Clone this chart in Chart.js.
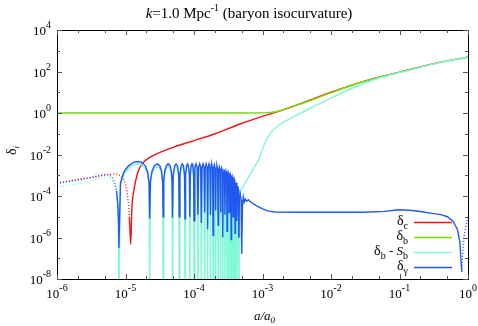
<!DOCTYPE html>
<html>
<head>
<meta charset="utf-8">
<script src="https://cdn.jsdelivr.net/npm/chart.js@4.4.1/dist/chart.umd.min.js"></script>
<style>
  html, body { margin: 0; padding: 0; background: #fff; }
  #wrap { width: 478px; height: 326px; }
</style>
</head>
<body>
<div id="wrap"><canvas id="chart" width="478" height="326"></canvas></div>
<script>
// axis ticks (powers of ten)
const xTickExps = [-6, -5, -4, -3, -2, -1, 0];
const yTickExps = [-8, -6, -4, -2, 0, 2, 4];
const xMinorMult = [2, 5];
const yMinorExps = [-7, -5, -3, -1, 1, 3];

// delta_c (cdm), log10 of |delta|
const cA = [1e-6, 2e-6, 3.3e-6, 5e-6, 6.6e-6, 8.8e-6, 1.04e-5, 1.14e-5, 1.19e-5, 1.24e-5, 1.33e-5, 1.47e-5, 1.63e-5,
  1.93e-5, 2.44e-5, 3.19e-5, 5.28e-5, 1e-4, 2.03e-4, 4.7e-4, 1e-3, 2e-3, 4.5e-3, 1e-2, 3.16e-2, 0.1, 0.316, 1];
const cLog = [-3.39, -3.2, -3.1, -3.0, -2.94, -3.07, -3.71, -5.0, -6.33, -4.6, -3.7, -3.0, -2.6,
  -2.3, -2.08, -1.9, -1.62, -1.33, -1.0, -0.53, -0.16, 0.15, 0.57, 1.0, 1.55, 1.97, 2.38, 2.70];

// delta_b
const bA = [1e-6, 5e-4, 1e-3, 1.3e-3, 1.8e-3, 2.5e-3, 3.16e-3, 4.5e-3, 1e-2, 3.16e-2, 0.1, 0.316, 1];
const bLog = [0, 0, 0.005, 0.03, 0.11, 0.27, 0.38, 0.55, 0.98, 1.54, 1.96, 2.37, 2.69];

// acoustic oscillation region, shared a-values for delta_gamma and delta_b - S_b
const oscA = [
  1e-6, 1.5e-6, 2.2e-6, 3e-6, 4e-6, 5e-6, 5.8e-6, 6.5e-6, 7e-6, 7.4e-6, 7.7e-6, 7.9e-6, 8.0e-6,
  8.44e-6, 9.45e-6, 1.09e-5, 1.235e-5, 1.38e-5, 1.525e-5, 1.67e-5, 1.815e-5, 1.96e-5, 2.105e-5, 2.21e-5, 2.25e-5,
  2.315e-5, 2.445e-5, 2.64e-5, 2.9e-5, 3.16e-5, 3.355e-5, 3.485e-5, 3.55e-5,
  3.615e-5, 3.745e-5, 3.94e-5, 4.2e-5, 4.46e-5, 4.655e-5, 4.785e-5, 4.85e-5,
  4.975e-5, 5.225e-5, 5.475e-5, 5.725e-5, 5.975e-5, 6.1e-5,
  6.23e-5, 6.49e-5, 6.75e-5, 7.01e-5, 7.27e-5, 7.4e-5,
  7.53e-5, 7.79e-5, 8.05e-5, 8.31e-5, 8.57e-5, 8.7e-5,
  8.83e-5, 9.09e-5, 9.35e-5, 9.61e-5, 9.87e-5, 1.0e-4,
  1.028e-4, 1.07e-4, 1.112e-4, 1.14e-4,
  1.168e-4, 1.21e-4, 1.252e-4, 1.28e-4,
  1.31e-4, 1.355e-4, 1.40e-4, 1.43e-4,
  1.46e-4, 1.505e-4, 1.55e-4, 1.58e-4,
  1.612e-4, 1.66e-4, 1.708e-4, 1.74e-4,
  1.772e-4, 1.82e-4, 1.868e-4, 1.90e-4,
  1.934e-4, 1.985e-4, 2.036e-4, 2.07e-4,
  2.106e-4, 2.16e-4, 2.214e-4, 2.25e-4,
  2.288e-4, 2.345e-4, 2.402e-4, 2.44e-4,
  2.478e-4, 2.535e-4, 2.592e-4, 2.63e-4,
  2.67e-4, 2.73e-4, 2.79e-4, 2.83e-4,
  2.872e-4, 2.935e-4, 2.998e-4, 3.04e-4,
  3.084e-4, 3.15e-4, 3.216e-4, 3.26e-4,
  3.306e-4, 3.375e-4, 3.444e-4, 3.49e-4,
  3.538e-4, 3.61e-4, 3.682e-4, 3.73e-4,
  3.78e-4, 3.855e-4, 3.93e-4, 3.98e-4,
  4.032e-4, 4.11e-4, 4.188e-4, 4.24e-4,
  4.292e-4, 4.37e-4, 4.448e-4, 4.50e-4
];
const gOscLog = [
  -3.37, -3.3, -3.22, -3.12, -3.02, -2.96, -2.98, -3.15, -3.4, -3.75, -4.3, -5.2, -6.5,
  -3.37, -2.85, -2.57, -2.43, -2.36, -2.34, -2.36, -2.43, -2.57, -2.85, -3.37, -5.1,
  -3.26, -2.79, -2.54, -2.45, -2.54, -2.79, -3.26, -5.0,
  -3.26, -2.79, -2.54, -2.45, -2.54, -2.79, -3.26, -5.05,
  -2.96, -2.54, -2.45, -2.54, -2.96, -5.0,
  -2.96, -2.54, -2.45, -2.54, -2.96, -5.1,
  -2.96, -2.54, -2.45, -2.54, -2.96, -5.0,
  -2.96, -2.54, -2.45, -2.54, -2.96, -5.2,
  -2.62, -2.45, -2.62, -4.9,
  -2.62, -2.45, -2.62, -5.3,
  -2.62, -2.45, -2.62, -4.8,
  -2.62, -2.45, -2.62, -5.6,
  -2.63, -2.46, -2.63, -4.9,
  -2.64, -2.47, -2.64, -5.9,
  -2.67, -2.5, -2.67, -4.7,
  -2.72, -2.55, -2.72, -5.4,
  -2.77, -2.6, -2.77, -4.8,
  -2.82, -2.65, -2.82, -6.0,
  -2.88, -2.71, -2.88, -4.9,
  -2.97, -2.8, -2.97, -5.7,
  -3.05, -2.88, -3.05, -4.8,
  -3.14, -2.97, -3.14, -6.1,
  -3.25, -3.08, -3.25, -5.0,
  -3.37, -3.2, -3.37, -5.8,
  -3.52, -3.35, -3.52, -5.2,
  -3.69, -3.52, -3.69, -6.0
];
const sOscLog = [
  -3.55, -3.48, -3.39, -3.28, -3.17, -3.1, -3.1, -3.27, -3.52, -3.87, -4.42, -5.32, -9,
  -3.49, -2.97, -2.69, -2.55, -2.48, -2.46, -2.48, -2.55, -2.69, -2.97, -3.49, -9,
  -3.38, -2.91, -2.66, -2.57, -2.66, -2.91, -3.38, -9,
  -3.38, -2.91, -2.66, -2.57, -2.66, -2.91, -3.38, -9,
  -3.08, -2.66, -2.57, -2.66, -3.08, -9,
  -3.08, -2.66, -2.57, -2.66, -3.08, -9,
  -3.08, -2.66, -2.57, -2.66, -3.08, -9,
  -3.08, -2.66, -2.57, -2.66, -3.08, -9,
  -2.74, -2.57, -2.74, -9,
  -2.74, -2.57, -2.74, -9,
  -2.74, -2.57, -2.74, -9,
  -2.74, -2.57, -2.74, -9,
  -2.75, -2.58, -2.75, -9,
  -2.76, -2.59, -2.76, -9,
  -2.79, -2.62, -2.79, -9,
  -2.84, -2.67, -2.84, -9,
  -2.89, -2.72, -2.89, -9,
  -2.94, -2.77, -2.94, -9,
  -3.0, -2.83, -3.0, -9,
  -3.09, -2.92, -3.09, -9,
  -3.17, -3.0, -3.17, -9,
  -3.26, -3.09, -3.26, -9,
  -3.37, -3.2, -3.37, -9,
  -3.49, -3.32, -3.49, -9,
  -3.64, -3.47, -3.64, -9,
  -3.81, -3.64, -3.81, -9
];

// delta_gamma after damping (starts at the last oscillation zero)
const gLateA = [4.5e-4, 4.6e-4, 4.73e-4, 4.87e-4, 4.97e-4, 5.1e-4, 5.25e-4, 5.4e-4, 5.6e-4, 5.85e-4, 6.2e-4, 6.8e-4, 8e-4,
  1e-3, 1.2e-3, 1.5e-3, 3e-3, 1e-2, 3e-2, 6e-2, 0.1, 0.14, 0.2, 0.3, 0.4, 0.5, 0.6, 0.7, 0.76, 0.81, 0.84, 0.89, 0.95, 1];
const gLateLog = [-6.0, -4.1, -3.9, -4.2, -6.8, -4.4, -4.05, -4.3, -4.15, -4.25, -4.18, -4.3, -4.45,
  -4.62, -4.72, -4.77, -4.78, -4.78, -4.78, -4.74, -4.66, -4.69, -4.75, -4.84, -4.9, -5.0, -5.2, -5.6, -6.2, -7.65, -6.6, -5.8, -5.35, -5.05];

// delta_b - S_b after the last oscillation
const sLateA = [4.5e-4, 4.6e-4, 4.8e-4, 5.5e-4, 6.9e-4, 8.9e-4, 1.05e-3, 1.32e-3, 1.7e-3, 2.1e-3, 3.16e-3, 5.5e-3, 1e-2, 2e-2, 4e-2, 0.1, 0.316, 1];
const sLateLog = [-9, -3.95, -3.72, -3.4, -2.85, -2.2, -1.55, -0.95, -0.6, -0.42, -0.1, 0.3, 0.72, 1.18, 1.58, 1.95, 2.37, 2.70];

const COLORS = { c: "#f01414", b: "#6fe000", s: "#80f8d4", g: "#2358f0" };
const SERIF = "'Liberation Serif', 'DejaVu Serif', serif";

function toPoints(as, logs) {
  return as.map((a, i) => ({ x: a, y: Math.pow(10, logs[i]) }));
}

// dotted where the curve is negative
function dotted(ranges) {
  return ctx => ranges.some(([lo, hi]) => ctx.p0.parsed.x >= lo && ctx.p1.parsed.x <= hi) ? [1, 2] : undefined;
}

function lineSet(label, color, pts, order, ranges, smooth) {
  return {
    label, data: pts, borderColor: color, backgroundColor: color,
    borderWidth: 1.4, pointRadius: 0, order,
    tension: smooth ? 0.4 : 0,
    cubicInterpolationMode: smooth ? "monotone" : "default",
    segment: { borderDash: dotted(ranges) }
  };
}

function drawPow(ctx, exp, x, y, align) {
  ctx.font = "13px " + SERIF;
  const w10 = ctx.measureText("10").width;
  ctx.font = "10px " + SERIF;
  const wE = ctx.measureText(String(exp)).width;
  const start = align === "center" ? x - (w10 + wE) / 2 : x - w10 - wE;
  ctx.textAlign = "left";
  ctx.font = "13px " + SERIF;
  ctx.fillText("10", start, y);
  ctx.font = "10px " + SERIF;
  ctx.fillText(String(exp), start + w10, y - 7);
}

// draw text pieces (with sub/superscripts), right aligned at x
function drawSubText(ctx, parts, x, y) {
  let total = 0;
  parts.forEach(p => { ctx.font = p.font; total += ctx.measureText(p.t).width; });
  let cx = x - total;
  ctx.textAlign = "left";
  parts.forEach(p => {
    ctx.font = p.font;
    ctx.fillText(p.t, cx, y + (p.dy || 0));
    cx += ctx.measureText(p.t).width;
  });
}

const frame = {
  id: "frame",
  afterDraw(chart) {
    const { ctx, chartArea: ca, scales } = chart;
    const xs = scales.x, ys = scales.y;
    ctx.save();
    ctx.strokeStyle = "#000";
    ctx.lineWidth = 1;
    ctx.strokeRect(Math.round(ca.left) + 0.5, Math.round(ca.top) + 0.5,
      Math.round(ca.right - ca.left), Math.round(ca.bottom - ca.top));

    ctx.strokeStyle = "#555";
    ctx.beginPath();
    xTickExps.forEach(e => {
      const px = Math.round(xs.getPixelForValue(Math.pow(10, e))) + 0.5;
      ctx.moveTo(px, ca.bottom); ctx.lineTo(px, ca.bottom - 5);
      ctx.moveTo(px, ca.top); ctx.lineTo(px, ca.top + 5);
      if (e < 0) xMinorMult.forEach(m => {
        const mx = Math.round(xs.getPixelForValue(m * Math.pow(10, e))) + 0.5;
        ctx.moveTo(mx, ca.bottom); ctx.lineTo(mx, ca.bottom - 3);
        ctx.moveTo(mx, ca.top); ctx.lineTo(mx, ca.top + 3);
      });
    });
    yTickExps.forEach(e => {
      const py = Math.round(ys.getPixelForValue(Math.pow(10, e))) + 0.5;
      ctx.moveTo(ca.left, py); ctx.lineTo(ca.left + 5, py);
      ctx.moveTo(ca.right, py); ctx.lineTo(ca.right - 5, py);
    });
    yMinorExps.forEach(e => {
      const py = Math.round(ys.getPixelForValue(Math.pow(10, e))) + 0.5;
      ctx.moveTo(ca.left, py); ctx.lineTo(ca.left + 3, py);
      ctx.moveTo(ca.right, py); ctx.lineTo(ca.right - 3, py);
    });
    ctx.stroke();

    ctx.fillStyle = "#000";
    ctx.textBaseline = "alphabetic";
    xTickExps.forEach(e => drawPow(ctx, e, xs.getPixelForValue(Math.pow(10, e)), ca.bottom + 19, "center"));
    yTickExps.forEach(e => drawPow(ctx, e, ca.left - 6, ys.getPixelForValue(Math.pow(10, e)) + 5, "right"));

    // title
    const titleParts = [
      { t: "k", font: "italic 15px " + SERIF },
      { t: "=1.0 Mpc", font: "15px " + SERIF },
      { t: "-1", font: "10px " + SERIF, dy: -7 },
      { t: " (baryon isocurvature)", font: "15px " + SERIF }
    ];
    let tw = 0;
    titleParts.forEach(p => { ctx.font = p.font; tw += ctx.measureText(p.t).width; });
    drawSubText(ctx, titleParts, 249 + tw / 2, 18);

    // x axis title
    drawSubText(ctx, [
      { t: "a/a", font: "italic 13px " + SERIF },
      { t: "0", font: "italic 9px " + SERIF, dy: 3 }
    ], 275, 320);

    // y axis title
    ctx.save();
    ctx.translate(16, 152);
    ctx.rotate(-Math.PI / 2);
    drawSubText(ctx, [
      { t: "δ", font: "14px " + SERIF },
      { t: "i", font: "italic 9px " + SERIF, dy: 3 }
    ], 6, 0);
    ctx.restore();

    // legend
    const rows = [
      { parts: [{ t: "δ", font: "14px " + SERIF }, { t: "c", font: "10px " + SERIF, dy: 4 }], color: COLORS.c },
      { parts: [{ t: "δ", font: "14px " + SERIF }, { t: "b", font: "10px " + SERIF, dy: 4 }], color: COLORS.b },
      { parts: [{ t: "δ", font: "14px " + SERIF }, { t: "b", font: "10px " + SERIF, dy: 4 },
        { t: " - ", font: "13px " + SERIF }, { t: "S", font: "italic 13px " + SERIF }, { t: "b", font: "10px " + SERIF, dy: 4 }], color: COLORS.s },
      { parts: [{ t: "δ", font: "14px " + SERIF }, { t: "γ", font: "10px " + SERIF, dy: 4 }], color: COLORS.g }
    ];
    rows.forEach((r, i) => {
      const y = 222 + i * 15;
      ctx.fillStyle = "#000";
      drawSubText(ctx, r.parts, 408, y + 3);
      ctx.strokeStyle = r.color;
      ctx.lineWidth = 1.5;
      ctx.beginPath();
      ctx.moveTo(414, y + 0.5);
      ctx.lineTo(452, y + 0.5);
      ctx.stroke();
    });
    ctx.restore();
  }
};

const datasets = [
  lineSet("δc", COLORS.c, toPoints(cA, cLog), 6, [[0, 1.14e-5]], true),
  lineSet("δb", COLORS.b, toPoints(bA, bLog), 5, [], true),
  lineSet("δb - Sb", COLORS.s, toPoints(oscA, sOscLog), 4, [[0, 7.4e-6]], false),
  lineSet("δb - Sb late", COLORS.s, toPoints(sLateA, sLateLog), 3, [], true),
  lineSet("δγ", COLORS.g, toPoints(oscA, gOscLog), 2, [[0, 7.4e-6]], false),
  lineSet("δγ late", COLORS.g, toPoints(gLateA, gLateLog), 1, [[0.81, 2]], false)
];

new Chart(document.getElementById("chart"), {
  type: "line",
  data: { datasets },
  options: {
    responsive: false,
    devicePixelRatio: 1,
    animation: false,
    parsing: false,
    layout: { padding: { left: 57, right: 10, top: 30, bottom: 47 } },
    plugins: { legend: { display: false }, tooltip: { enabled: false } },
    scales: {
      x: { type: "logarithmic", min: 1e-6, max: 1, display: false },
      y: { type: "logarithmic", min: 1e-8, max: 1e4, display: false }
    }
  },
  plugins: [frame]
});
</script>
</body>
</html>
